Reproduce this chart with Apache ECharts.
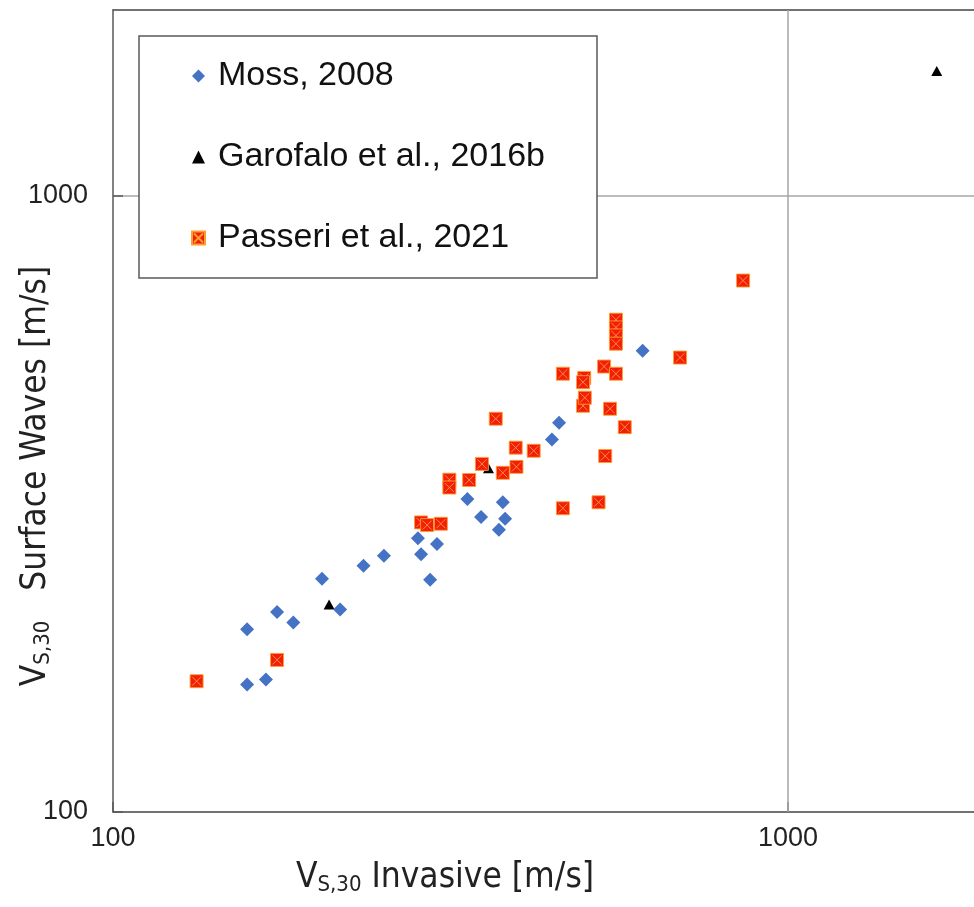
<!DOCTYPE html>
<html>
<head>
<meta charset="utf-8">
<script src="https://cdn.jsdelivr.net/npm/echarts@6/dist/echarts.min.js"></script>
<style>
html,body{margin:0;padding:0;background:#fff;}
#c{width:974px;height:907px;}
</style>
</head>
<body>
<div id="c"></div>
<script>
// ---- data ----
const seriesNames = ['Moss, 2008', 'Garofalo et al., 2016b', 'Passeri et al., 2021'];
const xTickLabels = [100, 1000];
const yTickLabels = [100, 1000];

const mossX = [158, 168.5, 158, 175, 185, 204, 217, 235, 252, 283, 286, 295, 302, 335, 351, 378, 381, 373, 447, 458, 609];
const mossY = [161, 164, 198, 211, 203, 239, 213, 251, 260.5, 278, 262, 238, 272, 322, 301, 318, 299, 287, 402, 428, 560];

const garX = [209, 360, 1661];
const garY = [217, 361, 1592];

const passX = [133, 175, 286, 292, 306, 315, 315, 337, 352, 378, 396, 395, 420, 369, 464, 524, 536, 573, 545, 497, 500, 499, 497, 464, 534, 556, 556, 556, 556, 556, 692, 858];
const passY = [163, 176.5, 295, 292, 293.5, 346, 336, 345.6, 367, 355, 363, 390, 385.5, 434.5, 311, 318, 378, 421, 451, 456, 470, 506, 498, 514, 528, 514, 629, 611, 593, 575, 546, 728];

function pairs(xs, ys) { return xs.map((x, i) => [x, ys[i]]); }

const chart = echarts.init(document.getElementById('c'), null, {renderer: 'canvas'});
const labelFont = 'Liberation Sans, Arial, sans-serif';
const narrowFont = "'Liberation Sans Narrow', 'DejaVu Sans Condensed', 'Liberation Sans', sans-serif";
const frameColor = '#595959';
const gridColor = '#a6a6a6';

function tickFmt(list) {
  return function (v) {
    const r = Math.round(v);
    return list.indexOf(r) >= 0 ? String(r) : '';
  };
}

const option = {
  animation: false,
  backgroundColor: '#ffffff',
  grid: {left: 113, top: 10, right: 0, bottom: 95},
  xAxis: [
    {
      type: 'log', logBase: 10, min: 100, max: 1886,
      axisLine: {show: true, onZero: false, lineStyle: {color: frameColor, width: 1.5}},
      axisTick: {show: true, inside: true, length: 10, lineStyle: {color: frameColor, width: 1.5}},
      axisLabel: {formatter: tickFmt(xTickLabels), fontSize: 27, color: '#222', margin: 13, fontFamily: labelFont, showMaxLabel: false},
      splitLine: {show: false}
    },
    {
      type: 'value', position: 'top', min: 0, max: 1,
      axisLine: {show: true, onZero: false, lineStyle: {color: frameColor, width: 1.5}},
      axisTick: {show: false}, axisLabel: {show: false}, splitLine: {show: false}
    }
  ],
  yAxis: {
    type: 'log', logBase: 10, min: 100, max: 2000,
    axisLine: {show: true, onZero: false, lineStyle: {color: frameColor, width: 1.5}},
    axisTick: {show: true, inside: true, length: 10, lineStyle: {color: frameColor, width: 1.5}},
    axisLabel: {formatter: tickFmt(yTickLabels), fontSize: 27, color: '#222', margin: 25, fontFamily: labelFont, showMaxLabel: false},
    splitLine: {show: true, lineStyle: {color: gridColor, width: 1.5}}
  },
  legend: {
    data: seriesNames,
    orient: 'vertical',
    left: 139, top: 36,
    padding: [23, 52, 23, 52],
    itemGap: 47,
    itemWidth: 13, itemHeight: 13,
    backgroundColor: '#fff',
    borderColor: frameColor, borderWidth: 1.5, borderRadius: 0,
    textStyle: {fontSize: 34, color: '#111', fontFamily: labelFont, padding: [0, 0, 0, 8]}
  },
  graphic: [
    {
      type: 'text', id: 'xt',
      x: 445, y: 878,
      style: {
        text: '{v|V}{s|S,30}{v| Invasive [m/s]}',
        align: 'center', verticalAlign: 'middle',
        rich: {
          v: {fontSize: 35, fontFamily: narrowFont, fill: '#222'},
          s: {fontSize: 22, fontFamily: narrowFont, fill: '#222', padding: [15, 0, 0, 0]}
        }
      }
    },
    {
      type: 'text', id: 'yt',
      x: 36, y: 476, rotation: Math.PI / 2,
      style: {
        text: '{v|V}{s|S,30}{v|   Surface Waves [m/s]}',
        align: 'center', verticalAlign: 'middle',
        rich: {
          v: {fontSize: 35, fontFamily: narrowFont, fill: '#222'},
          s: {fontSize: 22, fontFamily: narrowFont, fill: '#222', padding: [15, 0, 0, 0]}
        }
      }
    }
  ],
  series: [
    {
      name: seriesNames[1], type: 'scatter', z: 2, xAxisIndex: 0,
      symbol: 'triangle', symbolSize: [11, 10],
      itemStyle: {color: '#000000', opacity: 1},
      data: pairs(garX, garY),
      markLine: {
        silent: true, symbol: 'none', z: 1,
        label: {show: false},
        lineStyle: {color: gridColor, width: 1.5, type: 'solid'},
        emphasis: {disabled: true},
        data: [{xAxis: xTickLabels[1]}]
      }
    },
    {
      name: seriesNames[0], type: 'scatter', z: 3, xAxisIndex: 0,
      symbol: 'diamond', symbolSize: 14,
      itemStyle: {color: '#4472c4', opacity: 1},
      data: pairs(mossX, mossY)
    },
    {
      name: seriesNames[2], type: 'scatter', z: 4, xAxisIndex: 0,
      symbol: 'path://M0,0L10,0L10,10L0,10Z M1.5,1.5L8.5,8.5 M8.5,1.5L1.5,8.5',
      symbolSize: 13,
      itemStyle: {color: '#f21d0b', borderColor: '#ff9f2e', borderWidth: 0.9, opacity: 1},
      data: pairs(passX, passY)
    }
  ]
};
chart.setOption(option);
</script>
</body>
</html>
